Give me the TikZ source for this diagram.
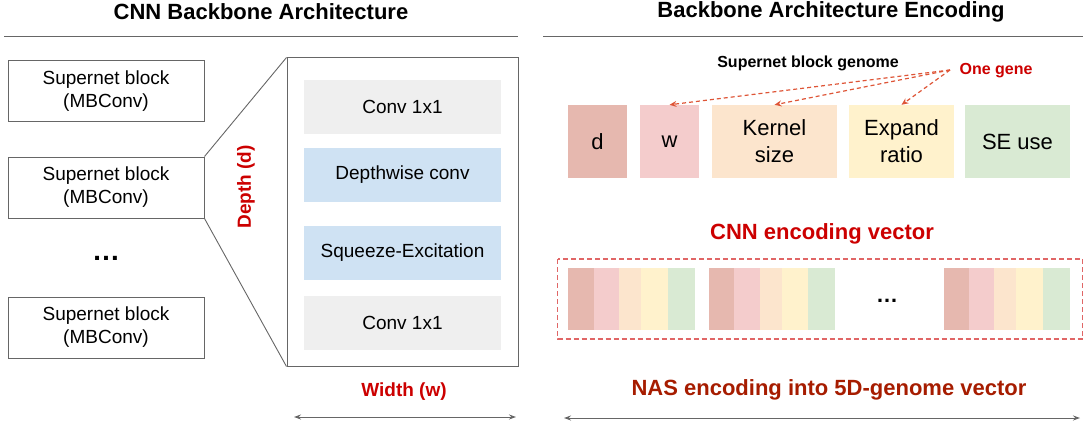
\documentclass[tikz,border=0pt]{standalone}
\usepackage{fontspec}
\setmainfont{Liberation Sans}
\usetikzlibrary{arrows.meta}
\definecolor{linegray}{HTML}{666666}
\definecolor{boxgray}{HTML}{EFEFEF}
\definecolor{boxblue}{HTML}{CFE2F3}
\definecolor{redtxt}{HTML}{CC0000}
\definecolor{darkred}{HTML}{A61C00}
\definecolor{arrred}{HTML}{DE5537}
\definecolor{dashred}{HTML}{E06666}
\definecolor{gd}{HTML}{E6B8AF}
\definecolor{gw}{HTML}{F4CCCC}
\definecolor{gk}{HTML}{FCE5CD}
\definecolor{ge}{HTML}{FFF2CC}
\definecolor{gs}{HTML}{D9EAD3}
\newcommand{\fsz}[2]{\fontsize{#1}{#2}\selectfont}
\begin{document}
\begin{tikzpicture}[x=1pt,y=-1pt,
  blk/.style={draw=linegray, line width=1pt, minimum width=196pt, minimum height=61pt, inner sep=0pt, align=center, font=\fsz{19}{23}},
  bigbox/.style={draw=linegray, line width=1pt, minimum width=231pt, minimum height=308pt, inner sep=0pt},
  layer/.style={minimum width=197pt, minimum height=54pt, inner sep=0pt, font=\fsz{19}{23}},
  gene/.style={minimum height=73pt, inner sep=0pt, align=center, font=\fsz{22}{27}},
  title/.style={font=\fsz{22}{26}\bfseries},
  redlbl/.style={text=redtxt, font=\fsz{19}{23}\bfseries},
  rule/.style={draw=linegray, line width=1pt},
  dimarrow/.style={draw=linegray, line width=1pt, {Stealth[length=7pt,width=5pt]}-{Stealth[length=7pt,width=5pt]}},
  genearrow/.style={draw=arrred, line width=1.2pt, dash pattern=on 4pt off 3pt, -{Stealth[length=7pt,width=6pt]}},
  zoomline/.style={draw=linegray, line width=0.9pt}
]
\useasboundingbox (0,0) rectangle (1086,425);

% titles and rules
\node[title] (t1) at (261,12) {CNN Backbone Architecture};
\node[title] (t2) at (831,12) {Backbone Architecture Encoding};
\coordinate (r1a) at (4,37); \coordinate (r1b) at (518,37);
\coordinate (r2a) at (543,37); \coordinate (r2b) at (1083,37);
\draw[rule] (r1a) -- (r1b);
\draw[rule] (r2a) -- (r2b);

% supernet blocks
\node[blk] (b1) at (106,91.5) {Supernet block\\(MBConv)};
\node[blk] (b2) at (106,187.5) {Supernet block\\(MBConv)};
\node[font=\fsz{28}{32}\bfseries] (dots1) at (106,258) {…};
\node[blk] (b3) at (106,327.5) {Supernet block\\(MBConv)};

% expanded block
\node[bigbox] (big) at (402.5,212) {};
\node[layer, fill=boxgray] (l1) at (402.5,107) {Conv 1x1};
\node[layer, fill=boxblue] (l2) at (402.5,175) {Depthwise conv};
\node[layer, fill=boxblue] (l3) at (402.5,253) {Squeeze-Excitation};
\node[layer, fill=boxgray] (l4) at (402.5,323) {Conv 1x1};
\draw[zoomline] (big.north west) -- (b2.north east);
\draw[zoomline] (big.south west) -- (b2.south east);

\node[redlbl, rotate=90] (depth) at (246,187) {Depth (d)};
\node[redlbl] (width) at (404,392) {Width (w)};
\coordinate (wl) at (294,417); \coordinate (wr) at (516,417);
\draw[dimarrow] (wl) -- (wr);

% genome
\node[font=\fsz{16}{19}\bfseries] (sbg) at (808,63) {Supernet block genome};
\node[font=\fsz{16}{19}\bfseries, text=redtxt] (og) at (996,71) {One gene};
\coordinate (ogp) at (950,70);
\node[gene, fill=gd, minimum width=59pt] (gd) at (597.5,141.5) {d};
\node[gene, fill=gw, minimum width=59pt] (gw) at (669.5,141.5) {w};
\node[gene, fill=gk, minimum width=125pt] (gk) at (774.5,141.5) {Kernel\\size};
\node[gene, fill=ge, minimum width=105pt] (ge) at (901.5,141.5) {Expand\\ratio};
\node[gene, fill=gs, minimum width=105pt] (gs) at (1017.5,141.5) {SE use};
\draw[genearrow] (ogp) -- (gw.north);
\draw[genearrow] (ogp) -- (gk.north);
\draw[genearrow] (ogp) -- (ge.north);

% encoding vector
\node[font=\fsz{22}{26}\bfseries, text=redtxt] (cev) at (822,234) {CNN encoding vector};
\draw[draw=dashred, line width=1.2pt, dash pattern=on 5pt off 3pt] (557.5,259) rectangle (1082.5,339);
\foreach \a/\b/\c/\d/\e/\f in {568/594.2/618.8/641/668/694.7, 709.2/734.1/760.1/781.9/807.9/834.9, 944/968.9/993.8/1016/1043/1070}{
  \fill[gd] (\a,268) rectangle (\b,330);
  \fill[gw] (\b,268) rectangle (\c,330);
  \fill[gk] (\c,268) rectangle (\d,330);
  \fill[ge] (\d,268) rectangle (\e,330);
  \fill[gs] (\e,268) rectangle (\f,330);
}
\node[font=\fsz{22}{26}\bfseries] (dots2) at (887,301) {…};

\node[font=\fsz{22}{26}\bfseries, text=darkred] (nas) at (829,390) {NAS encoding into 5D-genome vector};
\coordinate (nl) at (564,418); \coordinate (nr) at (1080,418);
\draw[dimarrow] (nl) -- (nr);
\end{tikzpicture}
\end{document}
